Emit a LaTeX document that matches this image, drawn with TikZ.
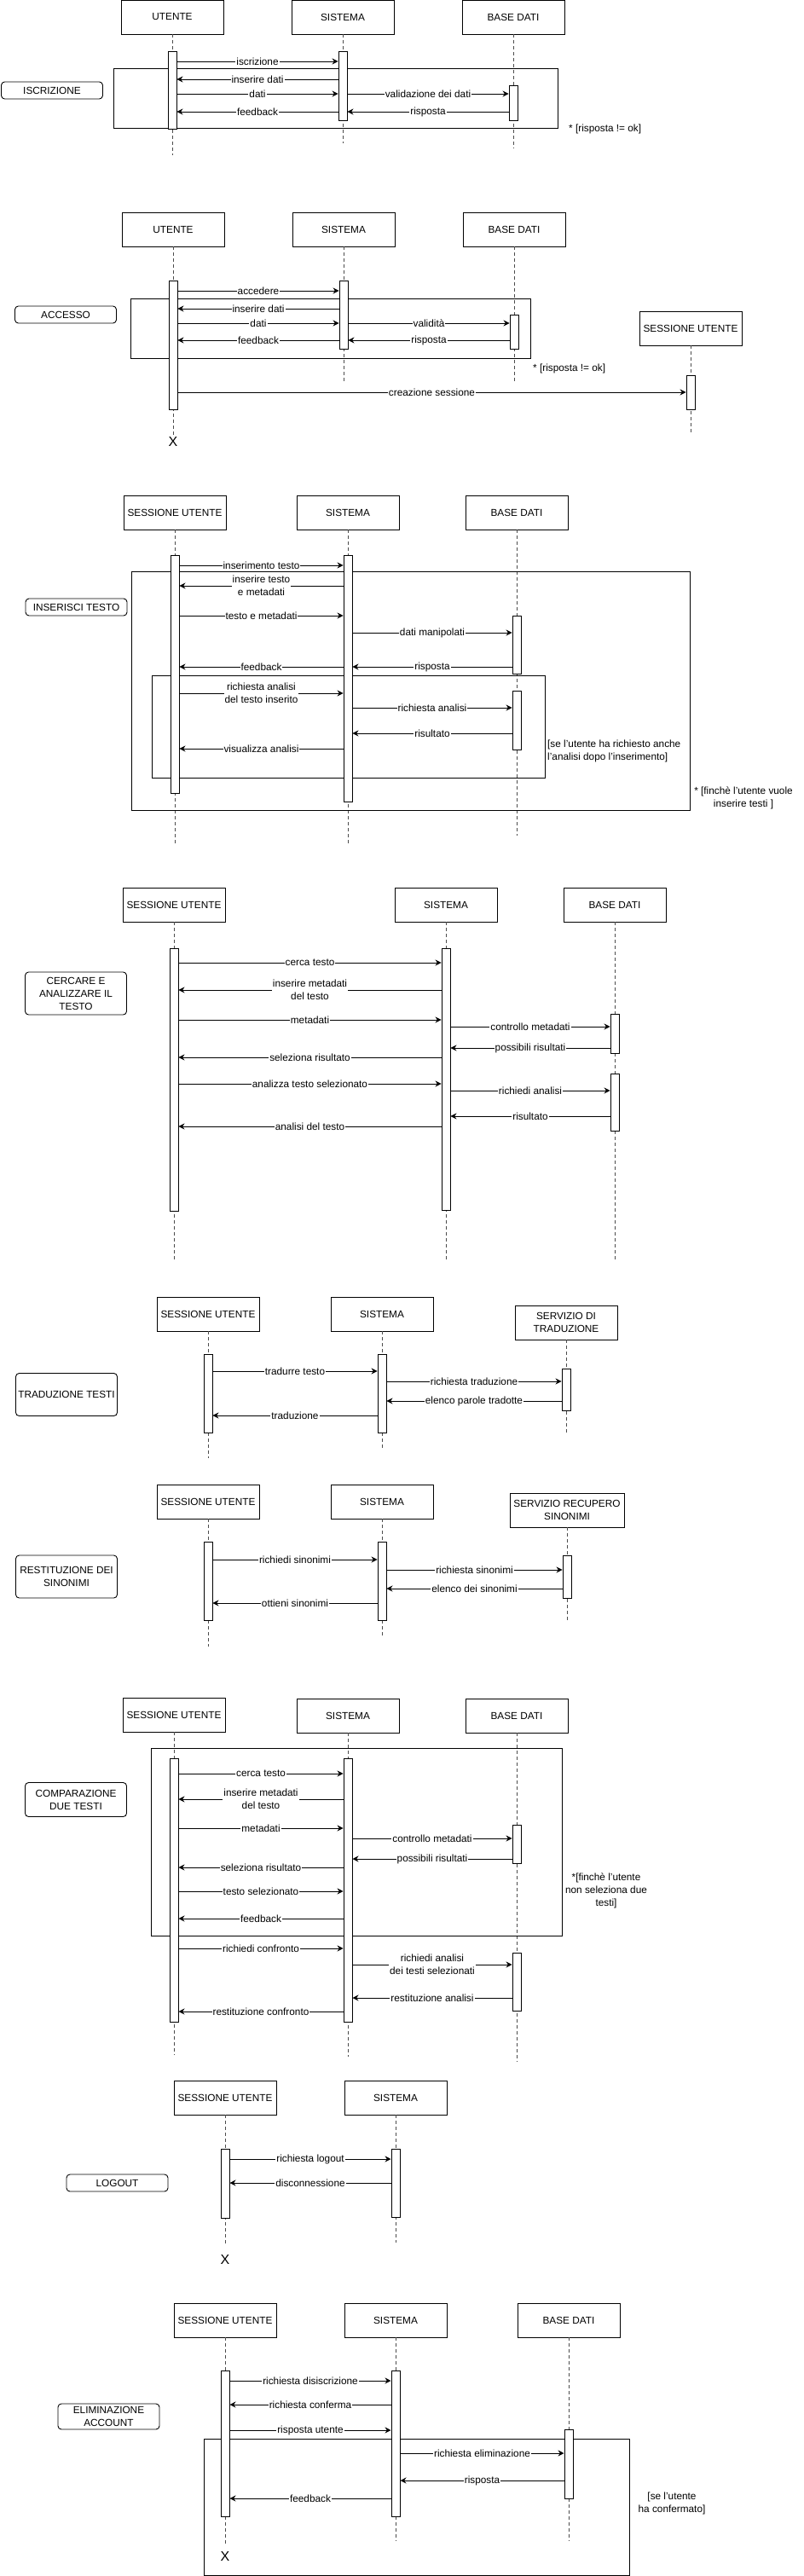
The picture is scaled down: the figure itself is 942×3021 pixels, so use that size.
\documentclass[tikz,border=0pt]{standalone}
\usepackage{fontspec}
\setmainfont{Liberation Sans}
\usetikzlibrary{arrows.meta}
\tikzset{
  every picture/.style={x=1pt,y=-1pt},
  base/.style={font=\fontsize{11.8}{15}\selectfont},
  part/.style={base,draw,fill=white,line width=0.9pt,minimum width=120pt,minimum height=40pt,align=center,inner sep=1pt},
  actst/.style={draw,fill=white,line width=0.9pt,minimum width=10pt,inner sep=0pt},
  life/.style={draw=black!70,line width=0.7pt,dash pattern=on 4pt off 3pt},
  msgst/.style={draw,line width=0.9pt,-{Stealth[length=7pt,width=7pt]}},
  lbl/.style={base,fill=white,inner sep=1pt,align=center},
  tag/.style={base,draw,rounded corners=4pt,line width=0.9pt,minimum width=119pt,align=center,inner sep=1pt},
  frm/.style={draw,line width=0.9pt},
  note/.style={base,align=center,inner sep=0pt},
  endx/.style={font=\fontsize{16}{16}\selectfont,inner sep=0pt}
}
\newcommand\actbar[4]{\node[actst,minimum height={#4-#3},anchor=north] (#1) at (#2,#3) {};}
\newcommand\msgR[4]{\draw[msgst] (#1.east |- 0,#3) -- node[lbl]{#4} (#2.west |- 0,#3);}
\newcommand\msgL[4]{\draw[msgst] (#1.west |- 0,#3) -- node[lbl]{#4} (#2.east |- 0,#3);}
\newcommand\lifeln[2]{\draw[life] (#1.south) -- (#1.south |- 0,#2);}
\begin{document}
\begin{tikzpicture}
\useasboundingbox[fill=white] (0,0) rectangle (942,3021);

% ===== Section 1: ISCRIZIONE =====
\node[part] (u1) at (202,20) {UTENTE};
\node[part] (s1) at (402,20) {SISTEMA};
\node[part] (d1) at (602,20) {BASE DATI};
\lifeln{u1}{182}\lifeln{s1}{168}\lifeln{d1}{174}
\draw[frm] (133,80) rectangle (654,150);
\actbar{ua1}{202}{60}{151}
\actbar{sa1}{402}{60}{141}
\actbar{da1}{602}{100}{141}
\msgR{ua1}{sa1}{72}{iscrizione}
\msgL{sa1}{ua1}{93}{inserire dati}
\msgR{ua1}{sa1}{110}{dati}
\msgR{sa1}{da1}{110}{validazione dei dati}
\msgL{sa1}{ua1}{131}{feedback}
\msgL{da1}{sa1}{131}{risposta}
\node[tag,minimum height=20pt] (t1) at (61,106) {ISCRIZIONE};
\node[note,anchor=west] (n1) at (667,151) {* [risposta != ok]};

% ===== Section 2: ACCESSO =====
\node[part] (u2) at (203,269) {UTENTE};
\node[part] (s2) at (403,269) {SISTEMA};
\node[part] (d2) at (603,269) {BASE DATI};
\node[part] (su2) at (810,385) {SESSIONE UTENTE};
\lifeln{u2}{510}\lifeln{s2}{450}\lifeln{d2}{449}\lifeln{su2}{508}
\node[endx] (x2) at (203,518) {X};
\draw[frm] (153,350) rectangle (622,420);
\actbar{ua2}{203}{329}{480}
\actbar{sa2}{403}{329}{409}
\actbar{da2}{603}{369}{409}
\actbar{sua2}{810}{440}{480}
\msgR{ua2}{sa2}{341}{accedere}
\msgL{sa2}{ua2}{362}{inserire dati}
\msgR{ua2}{sa2}{379}{dati}
\msgR{sa2}{da2}{379}{validità}
\msgL{sa2}{ua2}{399}{feedback}
\msgL{da2}{sa2}{399}{risposta}
\msgR{ua2}{sua2}{460}{creazione sessione}
\node[tag,minimum height=20pt] (t2) at (77,369) {ACCESSO};
\node[note,anchor=west] (n2) at (625,432) {* [risposta != ok]};

% ===== Section 3: INSERISCI TESTO =====
\node[part] (su3) at (205,601) {SESSIONE UTENTE};
\node[part] (s3) at (408,601) {SISTEMA};
\node[part] (d3) at (606,601) {BASE DATI};
\lifeln{su3}{990}\lifeln{s3}{990}\lifeln{d3}{980}
\draw[frm] (154,670) rectangle (809,950);
\draw[frm] (178,792) rectangle (639,912);
\actbar{sua3}{205}{651}{930}
\actbar{sa3}{408}{651}{940}
\actbar{da3a}{606}{722}{790}
\actbar{da3b}{606}{810}{879}
\msgR{sua3}{sa3}{663}{inserimento testo}
\msgL{sa3}{sua3}{687}{inserire testo\\e metadati}
\msgR{sua3}{sa3}{722}{testo e metadati}
\msgR{sa3}{da3a}{742}{dati manipolati}
\msgL{sa3}{sua3}{782}{feedback}
\msgL{da3a}{sa3}{782}{risposta}
\msgR{sua3}{sa3}{813}{richiesta analisi\\del testo inserito}
\msgR{sa3}{da3b}{830}{richiesta analisi}
\msgL{da3b}{sa3}{860}{risultato}
\msgL{sa3}{sua3}{878}{visualizza analisi}
\node[tag,minimum height=20pt] (t3) at (89.5,712) {INSERISCI TESTO};
\node[note,anchor=west,align=left] (n3a) at (642,881) {[se l'utente ha richiesto anche\\l'analisi dopo l'inserimento]};
\node[note] (n3b) at (872,936) {* [finchè l'utente vuole\\inserire testi ]};

% ===== Section 4: CERCARE E ANALIZZARE IL TESTO =====
\node[part] (su4) at (204,1061) {SESSIONE UTENTE};
\node[part] (s4) at (523,1061) {SISTEMA};
\node[part] (d4) at (721,1061) {BASE DATI};
\lifeln{su4}{1480}\lifeln{s4}{1480}\lifeln{d4}{1480}
\actbar{sua4}{204}{1112}{1420}
\actbar{sa4}{523}{1112}{1419}
\actbar{da4a}{721}{1189}{1235}
\actbar{da4b}{721}{1259}{1326}
\msgR{sua4}{sa4}{1129}{cerca testo}
\msgL{sa4}{sua4}{1161}{inserire metadati\\del testo}
\msgR{sua4}{sa4}{1196}{metadati}
\msgR{sa4}{da4a}{1204}{controllo metadati}
\msgL{da4a}{sa4}{1229}{possibili risultati}
\msgL{sa4}{sua4}{1240}{seleziona risultato}
\msgR{sua4}{sa4}{1271}{analizza testo selezionato}
\msgR{sa4}{da4b}{1279}{richiedi analisi}
\msgL{da4b}{sa4}{1309}{risultato}
\msgL{sa4}{sua4}{1321}{analisi del testo}
\node[tag,minimum height=50pt] (t4) at (89,1165) {CERCARE E\\ANALIZZARE IL\\TESTO};

% ===== Section 5: TRADUZIONE TESTI =====
\node[part] (su5) at (244,1541) {SESSIONE UTENTE};
\node[part] (s5) at (448,1541) {SISTEMA};
\node[part] (t5) at (664,1551) {SERVIZIO DI\\TRADUZIONE};
\lifeln{su5}{1710}\lifeln{s5}{1701}\lifeln{t5}{1681}
\actbar{sua5}{244}{1588}{1680}
\actbar{sa5}{448}{1588}{1680}
\actbar{ta5}{664}{1605}{1654}
\msgR{sua5}{sa5}{1608}{tradurre testo}
\msgR{sa5}{ta5}{1620}{richiesta traduzione}
\msgL{ta5}{sa5}{1643}{elenco parole tradotte}
\msgL{sa5}{sua5}{1660}{traduzione}
\node[tag,minimum height=50pt] (tg5) at (78,1635.5) {TRADUZIONE TESTI};

% ===== Section 6: RESTITUZIONE DEI SINONIMI =====
\node[part] (su6) at (244,1761) {SESSIONE UTENTE};
\node[part] (s6) at (448,1761) {SISTEMA};
\node[part,minimum width=134pt] (r6) at (665,1771) {SERVIZIO RECUPERO\\SINONIMI};
\lifeln{su6}{1931}\lifeln{s6}{1920}\lifeln{r6}{1901}
\actbar{sua6}{244}{1808}{1900}
\actbar{sa6}{448}{1808}{1900}
\actbar{ra6}{665}{1824}{1874}
\msgR{sua6}{sa6}{1829}{richiedi sinonimi}
\msgR{sa6}{ra6}{1841}{richiesta sinonimi}
\msgL{ra6}{sa6}{1863}{elenco dei sinonimi}
\msgL{sa6}{sua6}{1880}{ottieni sinonimi}
\node[tag,minimum height=50pt] (t6) at (78,1849) {RESTITUZIONE DEI\\SINONIMI};

% ===== Section 7: COMPARAZIONE DUE TESTI =====
\node[part] (su7) at (204,2011) {SESSIONE UTENTE};
\node[part] (s7) at (408,2012) {SISTEMA};
\node[part] (d7) at (606,2012) {BASE DATI};
\lifeln{su7}{2410}\lifeln{s7}{2412}\lifeln{d7}{2418}
\draw[frm] (177,2050) rectangle (659,2270);
\actbar{sua7}{204}{2062}{2371}
\actbar{sa7}{408}{2062}{2371}
\actbar{da7a}{606}{2140}{2185}
\actbar{da7b}{606}{2290}{2358}
\msgR{sua7}{sa7}{2080}{cerca testo}
\msgL{sa7}{sua7}{2110}{inserire metadati\\del testo}
\msgR{sua7}{sa7}{2144}{metadati}
\msgR{sa7}{da7a}{2156}{controllo metadati}
\msgL{da7a}{sa7}{2180}{possibili risultati}
\msgL{sa7}{sua7}{2190}{seleziona risultato}
\msgR{sua7}{sa7}{2218}{testo selezionato}
\msgL{sa7}{sua7}{2250}{feedback}
\msgR{sua7}{sa7}{2285}{richiedi confronto}
\msgR{sa7}{da7b}{2304}{richiedi analisi\\dei testi selezionati}
\msgL{da7b}{sa7}{2343}{restituzione analisi}
\msgL{sa7}{sua7}{2359}{restituzione confronto}
\node[tag,minimum height=40pt] (t7) at (89,2110.5) {COMPARAZIONE\\DUE TESTI};
\node[note] (n7) at (711,2217) {*[finchè l'utente\\non seleziona due\\testi]};

% ===== Section 8: LOGOUT =====
\node[part] (su8) at (264,2460) {SESSIONE UTENTE};
\node[part] (s8) at (464,2460) {SISTEMA};
\lifeln{su8}{2632}\lifeln{s8}{2630}
\node[endx] (x8) at (264,2650) {X};
\actbar{sua8}{264}{2520}{2601}
\actbar{sa8}{464}{2520}{2600}
\msgR{sua8}{sa8}{2532}{richiesta logout}
\msgL{sa8}{sua8}{2560}{disconnessione}
\node[tag,minimum height=20pt] (t8) at (137.5,2560) {LOGOUT};

% ===== Section 9: ELIMINAZIONE ACCOUNT =====
\node[part] (su9) at (264,2721) {SESSIONE UTENTE};
\node[part] (s9) at (464,2721) {SISTEMA};
\node[part] (d9) at (667,2721) {BASE DATI};
\lifeln{su9}{2985}\lifeln{s9}{2980}\lifeln{d9}{2980}
\node[endx] (x9) at (264,2998) {X};
\draw[frm] (239,2860) rectangle (738,3020);
\actbar{sua9}{264}{2780}{2951}
\actbar{sa9}{464}{2780}{2951}
\actbar{da9}{667}{2849}{2930}
\msgR{sua9}{sa9}{2792}{richiesta disiscrizione}
\msgL{sa9}{sua9}{2820}{richiesta conferma}
\msgR{sua9}{sa9}{2850}{risposta utente}
\msgR{sa9}{da9}{2877}{richiesta eliminazione}
\msgL{da9}{sa9}{2909}{risposta}
\msgL{sa9}{sua9}{2930}{feedback}
\node[tag,minimum height=30pt] (t9) at (127.5,2834) {ELIMINAZIONE\\ACCOUNT};
\node[note] (n9) at (788,2936) {[se l'utente\\ha confermato]};
\end{tikzpicture}
\end{document}
